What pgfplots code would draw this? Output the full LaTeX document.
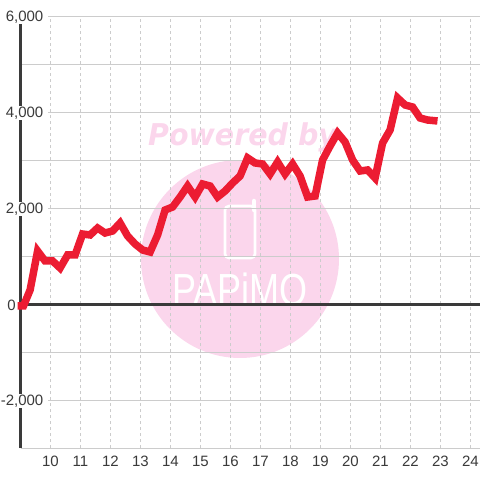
\documentclass[border=0pt]{standalone}
\usepackage{pgfplots}
\pgfplotsset{compat=1.18}
\usepackage{fontspec}
\setmainfont{Liberation Sans}
\newfontfamily\wmfont{DejaVu Sans}
\definecolor{wm}{HTML}{FBD6EC}
\definecolor{wmt}{HTML}{FBD6EC}
\definecolor{ink}{HTML}{3A3A3A}
\definecolor{gridc}{HTML}{CCCCCC}
\definecolor{redl}{HTML}{EC1C32}
\begin{document}
\begin{tikzpicture}[x=1pt,y=1pt]
\useasboundingbox (0,0) rectangle (480,480);
% watermark
\fill[wm] (240,221) circle (99);
\node[anchor=base west,inner sep=0pt,text=wmt,xscale=0.95,font=\wmfont\bfseries\itshape\fontsize{30}{30}\selectfont] at (148,334) {Powered by};
\draw[white,line width=2.6pt,rounded corners=4pt] (225,274) rectangle (255,222);
\draw[white,line width=4.5pt,line cap=round] (254,270) -- (254,279);
\node[anchor=base,inner sep=0pt,text=white,xscale=0.8,font=\fontsize{45}{45}\selectfont] at (240,174) {PAPiMO};
\begin{axis}[
  at={(20.5pt,32pt)},anchor=south west,
  scale only axis,width=459.5pt,height=432pt,
  xmin=9,xmax=24.317,ymin=-3000,ymax=6000,
  axis y line=left,axis x line=bottom,
  axis line style={-},
  y axis line style={ink,line width=2.8pt},
  x axis line style={gridc,line width=1pt},
  clip=false,
  xtick={10,...,24},
  ytick={-2000,2000,4000,6000},
  yticklabels={{-2,000},{2,000},{4,000},{6,000}},
  minor ytick={-3000,-1000,0,1000,3000,5000},
  major tick length=0pt,minor tick length=0pt,
  tick style={draw=none},
  grid=both,
  /pgf/number format/assume math mode=true,
  x grid style={gridc,line width=0.8pt,dash pattern=on 3pt off 3pt},
  y grid style={gridc,line width=1pt},
  minor y grid style={gridc,line width=1pt},
  tick label style={font=\fontsize{15}{15}\selectfont,text=ink},
  xticklabel style={anchor=center,yshift=-13pt},
  yticklabel style={anchor=east,fill=white,inner xsep=5pt,inner ysep=1pt,xshift=28pt,yshift=-1pt},
]
\addplot[ink,line width=3pt,forget plot] coordinates {(9,0)(24.317,0)};
\addplot[redl,line width=7.5pt,line join=miter,miter limit=3,line cap=butt] coordinates {
(8.9,-40)(9.1,-40)(9.32,292)(9.57,1104)(9.82,896)(10.07,896)(10.32,750)(10.57,1021)(10.82,1021)
(11.07,1458)(11.32,1438)(11.57,1583)(11.82,1479)(12.07,1521)(12.32,1688)(12.57,1417)(12.82,1250)
(13.07,1125)(13.32,1083)(13.57,1438)(13.82,1958)(14.07,2021)(14.32,2229)(14.57,2458)(14.82,2229)
(15.07,2500)(15.32,2458)(15.57,2229)(15.82,2354)(16.07,2521)(16.32,2667)(16.57,3042)(16.82,2938)
(17.07,2917)(17.32,2708)(17.57,2958)(17.82,2708)(18.07,2917)(18.32,2667)(18.57,2229)(18.82,2250)
(19.07,3000)(19.32,3292)(19.57,3563)(19.82,3375)(20.07,3000)(20.32,2771)(20.57,2792)(20.82,2625)
(21.07,3354)(21.32,3625)(21.57,4292)(21.82,4146)(22.07,4104)(22.32,3875)(22.57,3833)(22.9,3813)
};
\node[anchor=east,inner sep=0pt,text=ink,yshift=-1pt,font=\fontsize{15}{15}\selectfont] at (axis cs:8.85,0) {0};
\end{axis}
\end{tikzpicture}
\end{document}
